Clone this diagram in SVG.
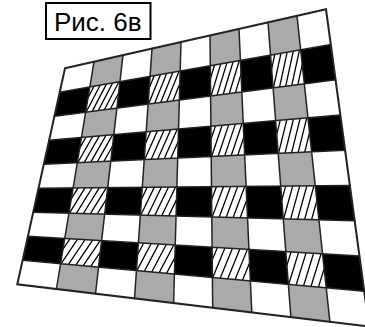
<svg xmlns="http://www.w3.org/2000/svg" xmlns:xlink="http://www.w3.org/1999/xlink" width="365" height="327" viewBox="0 0 365 327">
<style>
.gray{fill:#aaaaaa}
.black{fill:#000}
.grid{fill:none;stroke:#222;stroke-width:1.5;stroke-linecap:round}
.border{fill:none;stroke:#222;stroke-width:2;stroke-linejoin:miter}
.hl{fill:none;stroke:#000;stroke-width:1.3}
.lbl{font-family:"Liberation Sans",Arial,sans-serif;font-size:26px;fill:#000}
</style>
<defs>
<path id="hatch" class="hl" vector-effect="non-scaling-stroke" d="M-.235 1.1L.185-.1M-.035 1.1L.385-.1M.165 1.1L.585-.1M.365 1.1L.785-.1M.565 1.1L.985-.1M.765 1.1L1.185-.1"/>
<clipPath id="hclip">
<polygon points="89.8,87 119.9,81.7 116.9,108.2 85.6,112.2"/>
<polygon points="150.1,76.4 180.2,71.1 179.4,100.1 148.1,104.1"/>
<polygon points="210.3,65.8 240.4,60.5 241.8,92 210.6,96"/>
<polygon points="270.5,55.2 300.7,49.9 304.3,83.9 273.1,87.9"/>
<polygon points="81.5,137.5 113.8,134.7 110.8,161.2 77.3,162.7"/>
<polygon points="146.2,131.9 178.5,129.1 177.7,158.1 144.2,159.6"/>
<polygon points="210.9,126.3 243.3,123.5 244.7,155 211.2,156.5"/>
<polygon points="275.6,120.7 308,117.8 311.6,151.8 278.2,153.4"/>
<polygon points="73.1,188 107.7,187.7 104.6,214.2 68.9,213.2"/>
<polygon points="142.3,187.4 176.9,187.1 176.1,216.1 140.4,215.1"/>
<polygon points="211.5,186.8 246.1,186.5 247.5,218 211.8,217"/>
<polygon points="280.7,186.1 315.3,185.8 319,219.8 283.2,218.9"/>
<polygon points="64.7,238.5 101.6,240.7 98.5,267.2 60.6,263.7"/>
<polygon points="138.4,242.9 175.3,245.1 174.4,274.1 136.5,270.6"/>
<polygon points="212.1,247.3 248.9,249.4 250.4,280.9 212.4,277.5"/>
<polygon points="285.8,251.6 322.6,253.8 326.3,287.8 288.3,284.4"/>
</clipPath>
</defs>

<g id="label">
<rect x="46" y="3" width="104.5" height="36" fill="#fff" stroke="#000" stroke-width="2"/>
<text class="lbl" x="54" y="31.3">Рис. 6в</text>
</g>

<g id="board">
<polygon points="65,68.3 326,9.3 369,326.5 17.3,284.3" fill="#fff"/>

<g id="hatched" clip-path="url(#hclip)">
<use xlink:href="#hatch" transform="matrix(30.68,-4.682,-3.62,25.874,89.54,86.68)"/>
<use xlink:href="#hatch" transform="matrix(30.68,-4.682,-1.381,28.373,149.78,76.07)"/>
<use xlink:href="#hatch" transform="matrix(30.68,-4.682,0.859,30.872,210.02,65.46)"/>
<use xlink:href="#hatch" transform="matrix(30.68,-4.682,3.099,33.371,270.26,54.85)"/>
<use xlink:href="#hatch" transform="matrix(32.919,-2.183,-3.62,25.874,81.18,137.18)"/>
<use xlink:href="#hatch" transform="matrix(32.919,-2.183,-1.381,28.373,145.9,131.57)"/>
<use xlink:href="#hatch" transform="matrix(32.919,-2.183,0.859,30.872,210.62,125.95)"/>
<use xlink:href="#hatch" transform="matrix(32.919,-2.183,3.099,33.371,275.34,120.34)"/>
<use xlink:href="#hatch" transform="matrix(35.159,0.316,-3.62,25.874,72.82,187.68)"/>
<use xlink:href="#hatch" transform="matrix(35.159,0.316,-1.381,28.373,142.02,187.07)"/>
<use xlink:href="#hatch" transform="matrix(35.159,0.316,0.859,30.872,211.22,186.45)"/>
<use xlink:href="#hatch" transform="matrix(35.159,0.316,3.099,33.371,280.42,185.83)"/>
<use xlink:href="#hatch" transform="matrix(37.399,2.815,-3.62,25.874,64.46,238.18)"/>
<use xlink:href="#hatch" transform="matrix(37.399,2.815,-1.381,28.373,138.13,242.56)"/>
<use xlink:href="#hatch" transform="matrix(37.399,2.815,0.859,30.872,211.81,246.94)"/>
<use xlink:href="#hatch" transform="matrix(37.399,2.815,3.099,33.371,285.49,251.32)"/>
</g>

<g id="gray-cells" class="gray">
<polygon points="94,61.7 123,55.2 119.9,81.7 89.8,87"/>
<polygon points="152,48.6 181,42.1 180.2,71.1 150.1,76.4"/>
<polygon points="210,35.5 239,29 240.4,60.5 210.3,65.8"/>
<polygon points="268,22.4 297,15.9 300.7,49.9 270.5,55.2"/>
<polygon points="85.6,112.2 116.9,108.2 113.8,134.7 81.5,137.5"/>
<polygon points="148.1,104.1 179.4,100.1 178.5,129.1 146.2,131.9"/>
<polygon points="210.6,96 241.8,92 243.3,123.5 210.9,126.3"/>
<polygon points="273.1,87.9 304.3,83.9 308,117.8 275.6,120.7"/>
<polygon points="77.3,162.7 110.8,161.2 107.7,187.7 73.1,188"/>
<polygon points="144.2,159.6 177.7,158.1 176.9,187.1 142.3,187.4"/>
<polygon points="211.2,156.5 244.7,155 246.1,186.5 211.5,186.8"/>
<polygon points="278.2,153.4 311.6,151.8 315.3,185.8 280.7,186.1"/>
<polygon points="68.9,213.2 104.6,214.2 101.6,240.7 64.7,238.5"/>
<polygon points="140.4,215.1 176.1,216.1 175.3,245.1 138.4,242.9"/>
<polygon points="211.8,217 247.5,218 248.9,249.4 212.1,247.3"/>
<polygon points="283.2,218.9 319,219.8 322.6,253.8 285.8,251.6"/>
<polygon points="60.6,263.7 98.5,267.2 95.5,293.7 56.4,289"/>
<polygon points="136.5,270.6 174.4,274.1 173.6,303.1 134.5,298.4"/>
<polygon points="212.4,277.5 250.4,280.9 251.8,312.4 212.7,307.7"/>
<polygon points="288.3,284.4 326.3,287.8 329.9,321.8 290.9,317.1"/>
</g>

<g id="black-cells" class="black">
<polygon points="59.7,92.3 89.8,87 85.6,112.2 54.4,116.3"/>
<polygon points="119.9,81.7 150.1,76.4 148.1,104.1 116.9,108.2"/>
<polygon points="180.2,71.1 210.3,65.8 210.6,96 179.4,100.1"/>
<polygon points="240.4,60.5 270.5,55.2 273.1,87.9 241.8,92"/>
<polygon points="300.7,49.9 330.8,44.5 335.6,79.8 304.3,83.9"/>
<polygon points="49.1,140.3 81.5,137.5 77.3,162.7 43.8,164.3"/>
<polygon points="113.8,134.7 146.2,131.9 144.2,159.6 110.8,161.2"/>
<polygon points="178.5,129.1 210.9,126.3 211.2,156.5 177.7,158.1"/>
<polygon points="243.3,123.5 275.6,120.7 278.2,153.4 244.7,155"/>
<polygon points="308,117.8 340.3,115 345.1,150.3 311.6,151.8"/>
<polygon points="38.5,188.3 73.1,188 68.9,213.2 33.2,212.3"/>
<polygon points="107.7,187.7 142.3,187.4 140.4,215.1 104.6,214.2"/>
<polygon points="176.9,187.1 211.5,186.8 211.8,217 176.1,216.1"/>
<polygon points="246.1,186.5 280.7,186.1 283.2,218.9 247.5,218"/>
<polygon points="315.3,185.8 349.9,185.5 354.7,220.8 319,219.8"/>
<polygon points="27.9,236.3 64.7,238.5 60.6,263.7 22.6,260.3"/>
<polygon points="101.6,240.7 138.4,242.9 136.5,270.6 98.5,267.2"/>
<polygon points="175.3,245.1 212.1,247.3 212.4,277.5 174.4,274.1"/>
<polygon points="248.9,249.4 285.8,251.6 288.3,284.4 250.4,280.9"/>
<polygon points="322.6,253.8 359.5,256 364.2,291.3 326.3,287.8"/>
</g>

<path id="grid-lines" class="grid" d="M59.7,92.3L330.8,44.5M54.4,116.3L335.6,79.8M49.1,140.3L340.3,115M43.8,164.3L345.1,150.3M38.5,188.3L349.9,185.5M33.2,212.3L354.7,220.8M27.9,236.3L359.5,256M22.6,260.3L364.2,291.3M94,61.7L56.4,289M123,55.2L95.5,293.7M152,48.6L134.5,298.4M181,42.1L173.6,303.1M210,35.5L212.7,307.7M239,29L251.8,312.4M268,22.4L290.9,317.1M297,15.9L329.9,321.8"/>
<polygon id="outline" class="border" points="65,68.3 326,9.3 369,326.5 17.3,284.3"/>
</g>
</svg>
